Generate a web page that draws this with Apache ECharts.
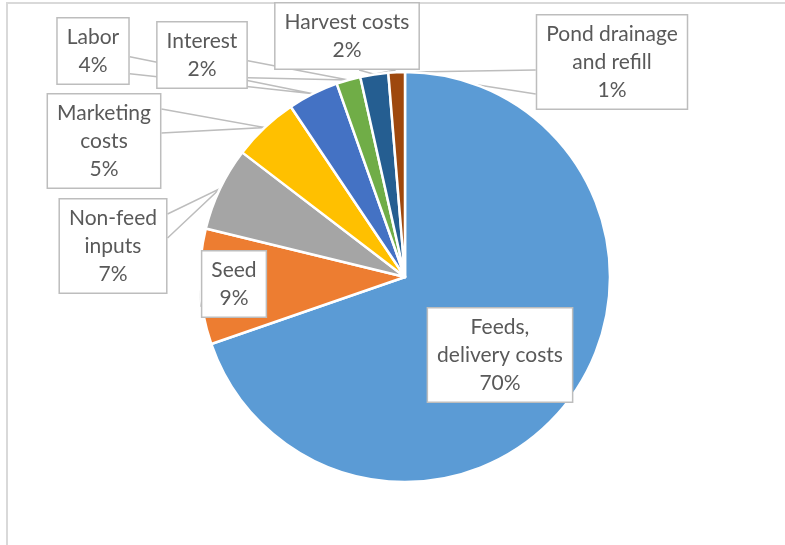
<!DOCTYPE html>
<html><head><meta charset="utf-8">
<script src="https://cdn.jsdelivr.net/npm/echarts@6/dist/echarts.min.js"></script>
<style>
html,body{margin:0;padding:0;background:#fff;}
#frame{position:absolute;left:6px;top:2px;width:800px;height:600px;border-top:2px solid #d9d9d9;border-left:2px solid #d9d9d9;}
#chart{position:absolute;left:0;top:0;width:785px;height:545px;}
</style></head><body>
<div id="frame"></div><div id="chart"></div>
<script>
const categories = ['Feeds,\ndelivery costs', 'Seed', 'Non-feed\ninputs', 'Marketing\ncosts', 'Labor', 'Interest', 'Harvest costs', 'Pond drainage\nand refill'];
const shares = [69.7, 9.1, 6.6, 5.2, 4.0, 1.9, 2.2, 1.3];
const colors = ['#5B9BD5', '#ED7D31', '#A5A5A5', '#FFC000', '#4472C4', '#70AD47', '#255E91', '#9E480E'];
// label box centres (layout only)
const labelPos = [[500, 355], [234, 284], [113, 246], [104, 141], [93, 51], [202, 55], [347, 36], [612, 62]];

function wedge(tip, cx, cy, w, h) {
  const l = cx - w / 2, t = cy - h / 2;
  const dx = tip[0] - cx, dy = tip[1] - cy;
  if (Math.abs(dx) / w > Math.abs(dy) / h) {
    const x = dx > 0 ? l + w : l;
    const f = dy < 0 ? [2, 5] : [7, 10];
    return [[x, t + h * f[0] / 12], tip, [x, t + h * f[1] / 12]];
  } else {
    const y = dy > 0 ? t + h : t;
    const f = dx < 0 ? [2, 5] : [7, 10];
    return [[l + w * f[0] / 12, y], tip, [l + w * f[1] / 12, y]];
  }
}

const chart = echarts.init(document.getElementById('chart'), null, {renderer: 'canvas'});
chart.setOption({
  animation: false,
  backgroundColor: 'transparent',
  series: [{
    type: 'pie',
    center: [405, 277],
    radius: [0, 205],
    startAngle: 90,
    clockwise: true,
    avoidLabelOverlap: false,
    percentPrecision: 0,
    itemStyle: {borderColor: '#ffffff', borderWidth: 2.5},
    label: {
      show: true,
      position: 'outside',
      formatter: '{b}\n{d}%',
      overflow: 'none',
      fontFamily: 'Lato',
      fontSize: 21,
      color: '#595959',
      lineHeight: 28,
      align: 'center',
      backgroundColor: '#ffffff',
      borderColor: '#bdbdbd',
      borderWidth: 1.5,
      padding: [5, 9, 4, 9]
    },
    labelLine: {show: true, lineStyle: {color: '#bdbdbd', width: 1.5}},
    emphasis: {disabled: true},
    labelLayout: function (p) {
      const c = labelPos[p.dataIndex];
      const res = {x: c[0], y: c[1], align: 'center', verticalAlign: 'middle'};
      if (p.labelLinePoints) {
        res.labelLinePoints = wedge(p.labelLinePoints[0], c[0], c[1], p.labelRect.width, p.labelRect.height);
      }
      return res;
    },
    data: categories.map((n, i) => ({
      name: n,
      value: shares[i],
      itemStyle: {color: colors[i]},
      labelLine: {show: i !== 0}
    }))
  }]
});
</script>
</body></html>
